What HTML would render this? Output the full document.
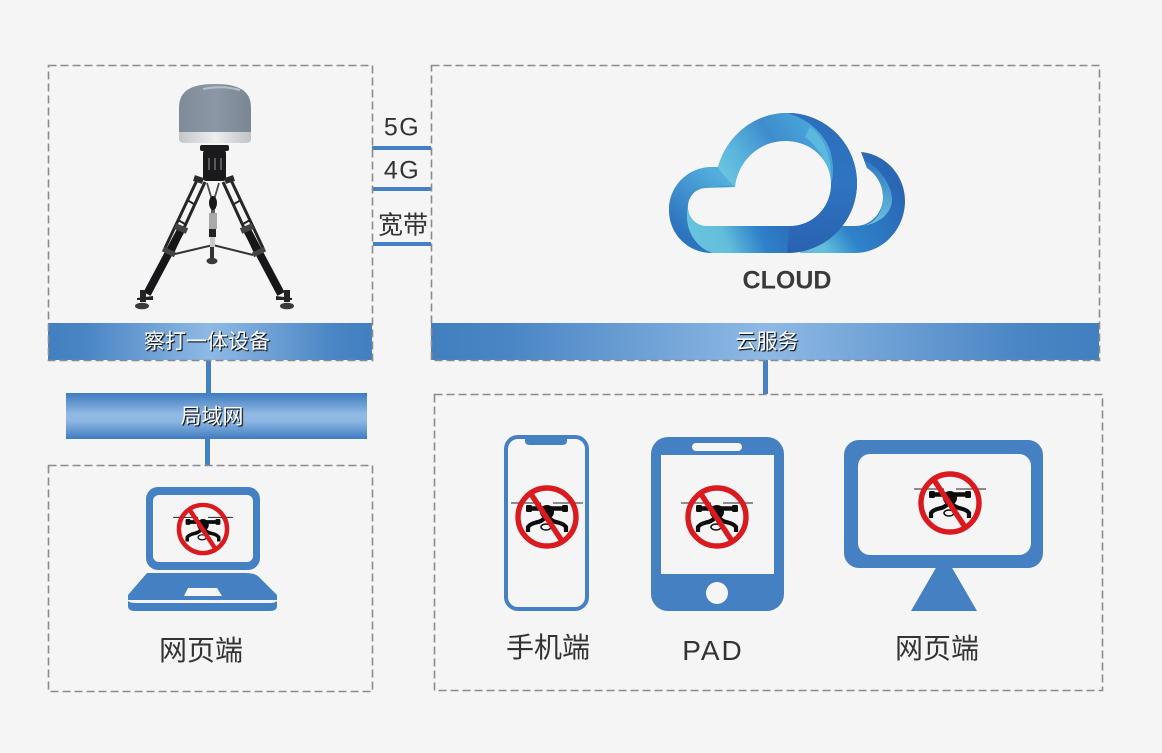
<!DOCTYPE html>
<html lang="zh">
<head>
<meta charset="utf-8">
<title>察打一体设备</title>
<style>
html,body{margin:0;padding:0;background:#f5f5f5}
#p{position:relative;width:1162px;height:753px;overflow:hidden;background:#f5f5f5;font-family:"Liberation Sans","Noto Sans CJK SC",sans-serif}
svg{position:absolute;left:0;top:0}
.t{position:absolute;transform:translate(-50%,-50%);white-space:nowrap;line-height:1;color:#333}
.w{color:#fff;font-size:21px;text-shadow:1px 1px 1px #10151d,1px 1px 0 #2a3442}
.l{font-size:28px}
.n{font-size:25px;letter-spacing:1.5px}
</style>
</head>
<body>
<div id="p">
<svg width="1162" height="753" viewBox="0 0 1162 753" xmlns="http://www.w3.org/2000/svg">
<defs>
<linearGradient id="hb" x1="0" x2="1" y1="0" y2="0"><stop offset="0" stop-color="#427fc0"/><stop offset=".12" stop-color="#4a86c5"/><stop offset=".5" stop-color="#8fb9e4"/><stop offset=".88" stop-color="#4a86c5"/><stop offset="1" stop-color="#427fc0"/></linearGradient>
<linearGradient id="vb" x1="0" x2="0" y1="0" y2="1"><stop offset="0" stop-color="#3f7cbf"/><stop offset=".45" stop-color="#8fb8e3"/><stop offset=".6" stop-color="#8fb8e3"/><stop offset="1" stop-color="#3f7cbf"/></linearGradient>
<linearGradient id="c1" gradientUnits="userSpaceOnUse" x1="700" y1="250" x2="800" y2="205"><stop offset="0" stop-color="#68c4dc"/><stop offset=".25" stop-color="#62bedb"/><stop offset=".55" stop-color="#2f82ca"/><stop offset="1" stop-color="#2a62b0"/></linearGradient>
<linearGradient id="c2" gradientUnits="userSpaceOnUse" x1="725" y1="180" x2="810" y2="120"><stop offset="0" stop-color="#6ac6dd"/><stop offset=".25" stop-color="#58b4dc"/><stop offset=".6" stop-color="#3f8ccd"/><stop offset="1" stop-color="#4aa6da"/></linearGradient>
<linearGradient id="c3" gradientUnits="userSpaceOnUse" x1="825" y1="250" x2="905" y2="195"><stop offset="0" stop-color="#62c0dc"/><stop offset=".3" stop-color="#2f82c9"/><stop offset="1" stop-color="#2a66b4"/></linearGradient>
<linearGradient id="c4" gradientUnits="userSpaceOnUse" x1="672" y1="225" x2="715" y2="172"><stop offset="0" stop-color="#2c74be"/><stop offset="1" stop-color="#53aedd"/></linearGradient>
<linearGradient id="c5" x1="0" x2="0" y1="0" y2="1"><stop offset="0" stop-color="#2c6fbc"/><stop offset=".5" stop-color="#2e74c0"/><stop offset="1" stop-color="#2a62b0"/></linearGradient>
<linearGradient id="c6" x1="0" x2="0" y1="0" y2="1"><stop offset="0" stop-color="#2f78c4"/><stop offset="1" stop-color="#68c4dc"/></linearGradient>
<linearGradient id="dome" x1="0" x2="1" y1="0" y2="0"><stop offset="0" stop-color="#7f8b99"/><stop offset=".5" stop-color="#8c97a5"/><stop offset="1" stop-color="#7a8693"/></linearGradient>
<linearGradient id="band" x1="0" x2="1" y1="0" y2="0"><stop offset="0" stop-color="#c4c6c8"/><stop offset=".5" stop-color="#eeeeee"/><stop offset="1" stop-color="#c0c2c4"/></linearGradient>
<symbol id="d" viewBox="-40 -40 80 80" overflow="visible">
<path d="M-36-14H-6M6-14H36" stroke="#222" stroke-width="1.1" fill="none"/>
<path d="M-18-8.500H19" stroke="#0c0c0c" stroke-width="4.500"/>
<rect x="-21" y="-12" width="6" height="7" rx="1.500" fill="#0c0c0c"/>
<rect x="15" y="-12" width="6" height="7" rx="1.500" fill="#0c0c0c"/>
<ellipse cx="0" cy="-5" rx="7" ry="7" fill="#0c0c0c"/>
<path d="M-1 0Q-6 5-11 5.500Q-17 7-19 10V15" stroke="#0c0c0c" stroke-width="4.200" fill="none"/>
<path d="M1 0Q6 5 11 5.500Q17 7 19 10V15" stroke="#0c0c0c" stroke-width="4.200" fill="none"/>
<ellipse cx="-1" cy="10" rx="5" ry="3" fill="none" stroke="#0c0c0c" stroke-width="1.500"/>
<circle r="29" fill="none" stroke="#db1a20" stroke-width="5.400"/>
<path d="M-16-23L15 24" stroke="#db1a20" stroke-width="5.400"/>
</symbol>
</defs>

<!-- connectors -->
<g fill="#4580c2">
<rect x="372" y="146" width="59" height="4"/>
<rect x="372" y="187" width="59" height="4"/>
<rect x="373" y="242" width="58" height="4"/>
<rect x="206" y="360" width="5" height="33"/>
<rect x="205" y="439" width="5" height="27"/>
<rect x="763" y="360" width="5" height="34"/>
</g>

<!-- bars -->
<rect x="48" y="323" width="324" height="37" fill="url(#hb)"/>
<rect x="431" y="323" width="668" height="37" fill="url(#hb)"/>
<rect x="66" y="393" width="301" height="46" fill="url(#vb)"/>

<!-- dashed boxes -->
<g fill="none" stroke="#8b8b8b" stroke-width="1.600" stroke-dasharray="8 4">
<rect x="48.500" y="65.500" width="324" height="295"/>
<rect x="431.500" y="65.500" width="668" height="295"/>
<rect x="48.500" y="465.500" width="324" height="226"/>
<rect x="434.500" y="394.500" width="668" height="296"/>
</g>

<!-- tripod -->
<g>
<path d="M179 132V108C179 90 192 84 215 84C238 84 251 90 251 108V132Z" fill="url(#dome)"/>
<path d="M203 89Q222 85 240 90" stroke="#b6bec8" stroke-width="2" fill="none"/>
<path d="M179 132H251V139Q251 143 245 143H185Q179 143 179 139Z" fill="url(#band)"/>
<rect x="200" y="145" width="29" height="6" rx="2" fill="#1d1d1f"/>
<rect x="203" y="150" width="23" height="31" rx="3" fill="#1a1a1c"/>
<path d="M209 158V170M215 158V170M221 158V170" stroke="#6a6a6c" stroke-width="1.600"/>
<path d="M198 178L165 248M205 182L173 252" stroke="#262628" stroke-width="3" fill="none"/>
<path d="M230 178L263 248M223 182L255 252" stroke="#262628" stroke-width="3" fill="none"/>
<path d="M187 200L194 204M178 220L185 224M241 200L234 204M250 220L243 224" stroke="#262628" stroke-width="2"/>
<path d="M194 178L203 181M225 181L234 178" stroke="#2a2a2a" stroke-width="6"/>
<path d="M181 230L147 294" stroke="#17171a" stroke-width="8"/>
<path d="M247 230L281 294" stroke="#17171a" stroke-width="8"/>
<path d="M175 226L187 231" stroke="#444" stroke-width="6"/>
<path d="M253 226L241 231" stroke="#444" stroke-width="6"/>
<path d="M163 249L175 255" stroke="#444" stroke-width="5"/>
<path d="M265 249L253 255" stroke="#444" stroke-width="5"/>
<path d="M175 254L213 245L253 255" stroke="#333" stroke-width="2" fill="none"/>
<path d="M207 183L212 200V245M219 183L214 200V245" stroke="#4a4a4a" stroke-width="1.800" fill="none"/>
<ellipse cx="213" cy="203" rx="4" ry="7" fill="#171717"/>
<rect x="209" y="213" width="8" height="16" fill="#a9a9a9"/>
<rect x="209" y="229" width="7" height="8" fill="#222"/>
<rect x="210" y="237" width="5" height="10" fill="#c8c8c8"/>
<rect x="210" y="247" width="4" height="11" fill="#333"/>
<ellipse cx="212" cy="261" rx="5.500" ry="3.200" fill="#3a3a3c"/>
<path d="M137 298L153 296V300H137Z" fill="#242424"/>
<rect x="140" y="290" width="6" height="12" fill="#242424"/>
<ellipse cx="142" cy="306" rx="7" ry="3.300" fill="#3a3a3c"/>
<path d="M276 296L292 298V300H276Z" fill="#242424"/>
<rect x="284" y="290" width="6" height="12" fill="#242424"/>
<ellipse cx="287" cy="306" rx="7" ry="3.300" fill="#3a3a3c"/>
</g>

<!-- cloud -->
<g>
<path d="M861 152C885 154 905 175 905 201C905 230 882 253 855 253H800L820 226H855C871 226 883 213 883 197C883 184 876 174 867 168Z" fill="url(#c3)"/>
<path d="M864 160C880 168 892 185 892 200C892 212 880 224 862 226C875 224 883 212 883 197C883 184 876 174 867 168Z" fill="url(#c6)"/>
<path d="M718 167C727 135 755 113 787 113C826 113 857 144 857 183C857 222 826 253 787 253H712C688 253 669 234 669 210C669 186 688 167 712 167Z" fill="url(#c1)"/>
<path d="M790 113C826 114 857 145 857 183C857 222 826 253 787 253L790 226C812 226 831 208 831 184C834 165 822 130 790 113Z" fill="url(#c5)"/>
<path d="M718 167C727 135 755 113 787 113C805 118 822 130 830 150C834 165 834 175 831 184C831 160 812 141 785 141C760 141 738 160 735 187C727 182 722 175 718 167Z" fill="url(#c2)"/>
<path d="M810 127C822 135 833 155 831 184C828 165 820 148 805 137Z" fill="#5cb8dc"/>
<path d="M712 167C688 167 669 186 669 210C669 234 688 253 712 253C696 247 683 230 688 205C692 192 705 188 718 185L735 187C728 180 722 174 718 167Z" fill="url(#c4)"/>
<path d="M735 187C738 160 760 141 785 141C812 141 831 160 831 184C831 208 812 226 790 226H707C696 226 688 217 688 207C688 196 696 188 707 188Z" fill="#f5f5f5"/>
</g>

<!-- laptop -->
<g fill="#4580c2">
<rect x="146" y="487" width="114" height="83" rx="12"/>
<path d="M147 573Q150 573 160 573H245Q254 573 258 576L277 595V600H128V595Z"/>
<path d="M128 601Q130 603 136 603H270Q275 603 277 601V606Q277 611 270 611H135Q128 611 128 606Z"/>
</g>
<rect x="153" y="495" width="100" height="67" rx="6" fill="#f5f5f5"/>
<path d="M188 588H217L222 596H184Z" fill="#f5f5f5"/>
<use href="#d" x="163" y="489" width="80" height="80" transform="translate(203 529) scale(.83) translate(-203 -529)"/>

<!-- phone -->
<rect x="506" y="437" width="81" height="172" rx="12" fill="#f5f5f5" stroke="#4580c2" stroke-width="4"/>
<path d="M525 437H567V441Q567 445 562 445H530Q525 445 525 441Z" fill="#4580c2"/>
<use href="#d" x="507" y="477" width="80" height="80"/>

<!-- tablet -->
<rect x="651" y="437" width="133" height="174" rx="17" fill="#4580c2"/>
<rect x="661" y="455" width="113" height="119" fill="#f5f5f5"/>
<rect x="692" y="443" width="50" height="8" rx="4" fill="#f5f5f5"/>
<circle cx="717" cy="593" r="11" fill="#f5f5f5"/>
<use href="#d" x="677" y="477" width="80" height="80"/>

<!-- monitor -->
<path d="M937 566H951L977 611H911Z" fill="#4580c2"/>
<rect x="844" y="440" width="199" height="128" rx="15" fill="#4580c2"/>
<rect x="858" y="454" width="173" height="101" rx="12" fill="#f5f5f5"/>
<use href="#d" x="910" y="463" width="80" height="80"/>
</svg>

<div class="t n" style="left:402px;top:128px">5G</div>
<div class="t n" style="left:402px;top:171px">4G</div>
<div class="t" style="left:403px;top:226px;font-size:25px">宽带</div>
<div class="t" style="left:787px;top:281px;font-size:25px;font-weight:bold;color:#3a3a3a">CLOUD</div>
<div class="t w" style="left:207px;top:342px">察打一体设备</div>
<div class="t w" style="left:767px;top:342px">云服务</div>
<div class="t w" style="left:212px;top:417px">局域网</div>
<div class="t l" style="left:201px;top:651px">网页端</div>
<div class="t l" style="left:548px;top:648px">手机端</div>
<div class="t l" style="left:713px;top:651px;letter-spacing:2px">PAD</div>
<div class="t l" style="left:937px;top:649px">网页端</div>
</div>
</body>
</html>
